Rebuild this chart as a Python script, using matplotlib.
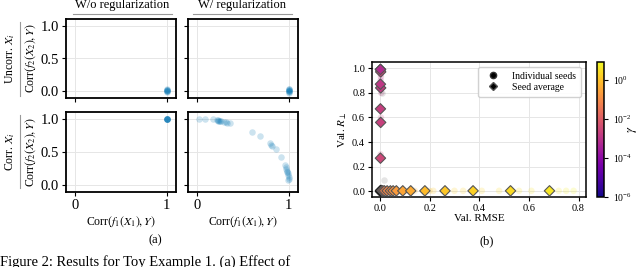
import numpy as np
import matplotlib
matplotlib.use("Agg")
import matplotlib.pyplot as plt
from matplotlib.colors import LogNorm
from matplotlib.lines import Line2D
from matplotlib.cm import ScalarMappable

plt.rcParams['font.family'] = ['Liberation Serif', 'DejaVu Serif']
plt.rcParams['mathtext.fontset'] = 'stix'

# ---- panel (a): corr of f1 vs corr of f2, 2x2 grid ----
col_titles = ["W/o regularization", "W/ regularization"]
row_titles = ["Uncorr. $X_i$", "Corr. $X_i$"]

uncorr_wo_x = [1.0, 1.0, 0.998, 1.0, 0.999, 1.0, 0.997, 1.0]
uncorr_wo_y = [-0.01, 0.0, 0.01, 0.02, 0.03, 0.005, 0.015, 0.025]
uncorr_w_x = [1.0, 1.0, 0.998, 1.0, 0.999, 1.0, 0.997, 1.0, 1.0]
uncorr_w_y = [-0.02, -0.01, 0.0, 0.01, 0.02, 0.03, 0.04, 0.015, 0.005]
corr_wo_x = [1.0, 1.0, 0.999, 1.0, 1.0, 0.998, 1.0, 1.0]
corr_wo_y = [1.0, 0.999, 1.0, 0.998, 1.0, 1.0, 0.999, 1.0]
corr_w_x = [0.02, 0.09, 0.17, 0.22, 0.23, 0.23, 0.24, 0.25, 0.26, 0.29, 0.31, 0.33, 0.36,
            0.60, 0.69, 0.79, 0.80, 0.82, 0.86, 0.91,
            0.96, 0.97, 0.97, 0.98, 0.98, 0.99, 0.99, 1.0, 1.0, 0.99]
corr_w_y = [1.0, 0.995, 0.99, 0.98, 0.97, 0.975, 0.96, 0.97, 0.965, 0.95, 0.95, 0.94, 0.93,
            0.80, 0.74, 0.63, 0.61, 0.59, 0.55, 0.43,
            0.30, 0.27, 0.25, 0.22, 0.20, 0.18, 0.15, 0.13, 0.10, 0.08]

# ---- panel (b): RMSE vs R_perp, colored by gamma ----
avg_rmse = [0.008, 0.012, 0.018, 0.029, 0.042, 0.053, 0.066, 0.092, 0.124,
            0.181, 0.262, 0.375, 0.526, 0.683,
            0.002, 0.003, 0.002, 0.003, 0.002, 0.003, 0.002]
avg_rperp = [0.005, 0.005, 0.005, 0.005, 0.005, 0.005, 0.005, 0.005, 0.005,
             0.005, 0.005, 0.005, 0.005, 0.005,
             0.27, 0.56, 0.67, 0.84, 0.87, 0.97, 0.99]
avg_gamma = [0.02, 0.04, 0.06, 0.08, 0.1, 0.15, 0.2, 0.3, 0.4,
             0.8, 1.2, 1.8, 2.5, 4.0,
             3e-3, 2e-3, 1.8e-3, 1.5e-3, 1.2e-3, 2.5e-3, 6e-4]
avg_black_rmse = [0.001, 0.002, 0.004, 0.002]
avg_black_rperp = [0.995, 0.01, 0.008, 0.005]

seed_rmse = [0.003, 0.006, 0.01, 0.02, 0.035, 0.05, 0.07, 0.1, 0.14, 0.2, 0.215, 0.3,
             0.335, 0.41, 0.48, 0.56, 0.61, 0.72, 0.75, 0.78,
             0.003, 0.004, 0.003, 0.005, 0.004, 0.003]
seed_rperp = [0.005, 0.005, 0.005, 0.005, 0.005, 0.005, 0.005, 0.005, 0.005, 0.005, 0.005, 0.005,
              0.005, 0.005, 0.005, 0.005, 0.005, 0.005, 0.005, 0.005,
              0.95, 0.93, 0.90, 0.80, 0.60, 0.30]
seed_gamma = [0.03, 0.05, 0.08, 0.1, 0.15, 0.2, 0.3, 0.4, 0.6, 1.0, 1.2, 1.5,
              1.8, 2.0, 2.5, 3.0, 3.5, 4.0, 5.0, 6.0,
              1e-3, 1.5e-3, 6e-4, 1.2e-3, 2e-3, 3e-3]
seed_black_rmse = [0.017, 0.008, 0.003]
seed_black_rperp = [0.095, 0.8, 0.02]

blue = '#0173b2'
fig = plt.figure(figsize=(6.4, 2.67), dpi=100)

W, H = 640.0, 267.0
def px_axes(x0, x1, y0, y1):
    return fig.add_axes([x0 / W, 1 - y1 / H, (x1 - x0) / W, (y1 - y0) / H])

axs = [[px_axes(66, 176, 19, 98), px_axes(188, 298, 19, 98)],
       [px_axes(66, 176, 112, 192), px_axes(188, 298, 112, 192)]]
data_a = [[(uncorr_wo_x, uncorr_wo_y), (uncorr_w_x, uncorr_w_y)],
          [(corr_wo_x, corr_wo_y), (corr_w_x, corr_w_y)]]

for r in range(2):
    for c in range(2):
        ax = axs[r][c]
        xs, ys = data_a[r][c]
        ax.scatter(xs, ys, s=22, color=blue, alpha=0.2, linewidths=0, zorder=3)
        ax.set_xlim(-0.1, 1.1)
        ax.set_ylim(-0.1, 1.1)
        ax.set_xticks([0, 1])
        ax.set_yticks([0.0, 0.5, 1.0])
        ax.grid(True, color='#e6e6e6', linewidth=0.7)
        ax.set_axisbelow(True)
        for sp in ax.spines.values():
            sp.set_linewidth(1.3)
        ax.tick_params(length=3, width=0.8, labelsize=10.5, pad=2)
        if c == 1:
            ax.set_yticklabels([])
        else:
            ax.set_yticklabels(['0.0', '0.5', '1.0'])
            ax.set_ylabel(r'Corr$(f_2(X_2), Y)$', fontsize=8.5, labelpad=2)
        if r == 0:
            ax.set_xticklabels([])
        else:
            ax.set_xlabel(r'Corr$(f_1(X_1), Y)$', fontsize=8.5, labelpad=2)

# column titles with grey rule
for c, (x0, x1) in enumerate([(73, 172), (193, 292)]):
    fig.text((x0 + x1) / 2 / W, 1 - 5 / H, col_titles[c], ha='center', va='center', fontsize=9)
    fig.add_artist(Line2D([x0 / W, x1 / W], [1 - 14 / H, 1 - 14 / H], color='#999999', linewidth=0.8))
# row titles with grey rule
for r, (y0, y1) in enumerate([(22, 96), (115, 188)]):
    fig.text(10 / W, 1 - (y0 + y1) / 2 / H, row_titles[r], ha='center', va='center',
             rotation=90, fontsize=8.5)
    fig.add_artist(Line2D([20 / W, 20 / W], [1 - y0 / H, 1 - y1 / H], color='#999999', linewidth=0.8))

fig.text(155 / W, 1 - 240 / H, '(a)', ha='center', va='center', fontsize=9)

# ---- panel (b) ----
norm = LogNorm(vmin=1e-6, vmax=8)
cmap = plt.get_cmap('plasma')
axb = px_axes(372, 586, 62, 197)
axb.scatter(seed_rmse, seed_rperp, c=seed_gamma, cmap=cmap, norm=norm, s=22,
            alpha=0.2, linewidths=0, zorder=2)
axb.scatter(seed_black_rmse, seed_black_rperp, color='black', s=22, alpha=0.1,
            linewidths=0, zorder=2)
axb.scatter(avg_black_rmse, avg_black_rperp, marker='D', color='black', s=28,
            edgecolors='#222222', linewidths=0.8, zorder=3)
axb.scatter(avg_rmse, avg_rperp, c=avg_gamma, cmap=cmap, norm=norm, marker='D', s=28,
            edgecolors='#555555', linewidths=0.8, zorder=4)
axb.set_xlim(-0.032, 0.83)
axb.set_ylim(-0.045, 1.05)
axb.set_xticks([0.0, 0.2, 0.4, 0.6, 0.8])
axb.set_yticks([0.0, 0.2, 0.4, 0.6, 0.8, 1.0])
axb.grid(True, color='#e6e6e6', linewidth=0.7)
axb.set_axisbelow(True)
for sp in axb.spines.values():
    sp.set_linewidth(1.1)
axb.tick_params(length=3, width=0.8, labelsize=7.5, pad=2)
axb.set_xlabel('Val. RMSE', fontsize=8, labelpad=1)
axb.set_ylabel(r'Val. $R_\perp$', fontsize=8, labelpad=2)

handles = [Line2D([], [], marker='o', linestyle='none', color='black', markersize=4.5,
                  markeredgecolor='#333333'),
           Line2D([], [], marker='D', linestyle='none', color='black', markersize=4.5,
                  markeredgecolor='#555555')]
axb.legend(handles, ['Individual seeds', 'Seed average'], loc='upper right', fontsize=7,
           handletextpad=1.0, borderpad=0.5, labelspacing=0.2, framealpha=0.9,
           edgecolor='#cccccc', fancybox=True)

cax = px_axes(597, 604, 62, 197)
sm = ScalarMappable(norm=norm, cmap=cmap)
cb = fig.colorbar(sm, cax=cax)
cb.set_ticks([1e-6, 1e-4, 1e-2, 1])
cb.ax.minorticks_off()
cb.ax.tick_params(labelsize=7, length=3, width=0.8)
cb.outline.set_linewidth(1.1)
cb.set_label(r'$\gamma$', fontsize=9)
cb.ax.yaxis.set_label_coords(4.2, 0.5)

fig.text(487 / W, 1 - 241 / H, '(b)', ha='center', va='center', fontsize=9)

fig.text(0.0, 1 - 255 / H, 'Figure 2: Results for Toy Example 1. (a) Effect of',
         ha='left', va='top', fontsize=10.5)

fig.savefig('out.png', dpi=100)
